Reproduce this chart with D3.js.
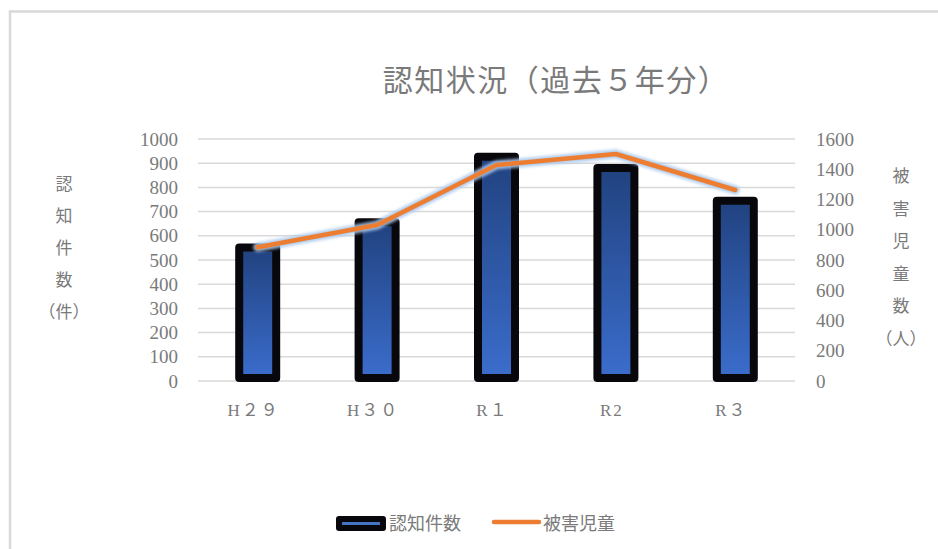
<!DOCTYPE html>
<html lang="ja">
<head>
<meta charset="utf-8">
<script src="https://cdn.jsdelivr.net/npm/d3@7"></script>
<style>
  html, body { margin: 0; padding: 0; background: #fff; }
  svg { display: block; }
  text { font-family: "Liberation Serif", "Noto Sans CJK JP", serif; fill: #7a7a7a; }
</style>
</head>
<body>
<svg id="chart" width="938" height="549"></svg>
<script>
// 認知件数（件）と被害児童数（人）の推移
const categories = ["H２９", "H３０", "R１", "R2", "R３"];
const ninchiCounts = [552, 656, 927, 880, 745];      // 認知件数（左軸）
const higaiChildren = [884, 1031, 1428, 1501, 1263]; // 被害児童数（右軸）
const leftTicks = [0, 100, 200, 300, 400, 500, 600, 700, 800, 900, 1000];
const rightTicks = [0, 200, 400, 600, 800, 1000, 1200, 1400, 1600];
const titleText = "認知状況（過去５年分）";
const leftAxisTitle = ["認", "知", "件", "数", "（件）"];
const rightAxisTitle = ["被", "害", "児", "童", "数", "（人）"];
const legendLabels = ["認知件数", "被害児童"];

const svg = d3.select("#chart");
const plot = { left: 198, right: 795, top: 139, bottom: 381 };

// chart frame
svg.append("path")
  .attr("d", "M10,549 V11.5 H938")
  .attr("fill", "none")
  .attr("stroke", "#d9d9d9")
  .attr("stroke-width", 2.5);

const defs = svg.append("defs");
const grad = defs.append("linearGradient")
  .attr("id", "barFill").attr("x1", 0).attr("y1", 0).attr("x2", 0).attr("y2", 1);
grad.append("stop").attr("offset", "0%").attr("stop-color", "#21427f");
grad.append("stop").attr("offset", "100%").attr("stop-color", "#3b6dcc");

const glow = defs.append("filter").attr("id", "glow")
  .attr("x", "-10%").attr("y", "-50%").attr("width", "120%").attr("height", "200%");
glow.append("feGaussianBlur").attr("stdDeviation", 1.6);

const x = d3.scaleBand().domain(categories).range([plot.left, plot.right]).padding(0);
const yL = d3.scaleLinear().domain([0, 1000]).range([plot.bottom, plot.top]);
const yR = d3.scaleLinear().domain([0, 1600]).range([plot.bottom, plot.top]);
const fmt = d3.format("d");

// gridlines
svg.append("g").selectAll("line").data(leftTicks).join("line")
  .attr("x1", plot.left).attr("x2", plot.right)
  .attr("y1", d => yL(d)).attr("y2", d => yL(d))
  .attr("stroke", "#d9d9d9").attr("stroke-width", 1.5);

// left axis
const leftAxis = svg.append("g")
  .attr("transform", `translate(${plot.left - 20},0)`)
  .call(d3.axisLeft(yL).tickValues(leftTicks).tickFormat(fmt).tickSize(0).tickPadding(0));
leftAxis.select(".domain").remove();
leftAxis.selectAll("text").attr("font-size", 19).attr("fill", "#7a7a7a")
  .style("font-family", "'Liberation Serif', serif");

// right axis
const rightAxis = svg.append("g")
  .attr("transform", `translate(${plot.right + 21},0)`)
  .call(d3.axisRight(yR).tickValues(rightTicks).tickFormat(fmt).tickSize(0).tickPadding(0));
rightAxis.select(".domain").remove();
rightAxis.selectAll("text").attr("font-size", 19).attr("fill", "#7a7a7a")
  .style("font-family", "'Liberation Serif', serif");

// category labels
const xAxis = svg.append("g")
  .attr("transform", `translate(-4,${plot.bottom})`)
  .call(d3.axisBottom(x).tickSize(0).tickPadding(23));
xAxis.select(".domain").remove();
xAxis.selectAll("text").attr("font-size", 17).attr("fill", "#7a7a7a")
  .attr("letter-spacing", 2)
  .style("font-family", "'Liberation Serif', 'Noto Sans CJK JP', serif");

// bars
const barW = 37;
svg.append("g").selectAll("rect").data(categories).join("rect")
  .attr("x", d => x(d) + x.bandwidth() / 2 - barW / 2)
  .attr("y", (d, i) => yL(ninchiCounts[i]))
  .attr("width", barW)
  .attr("height", (d, i) => yL(0) - 3 - yL(ninchiCounts[i]))
  .attr("fill", "url(#barFill)")
  .attr("stroke", "#08080c")
  .attr("stroke-width", 8)
  .attr("stroke-linejoin", "round");

// line series
const line = d3.line()
  .x((d, i) => x(categories[i]) + x.bandwidth() / 2)
  .y(d => yR(d));
svg.append("path").datum(higaiChildren)
  .attr("d", line)
  .attr("fill", "none")
  .attr("stroke", "#a9c8ec")
  .attr("stroke-width", 9)
  .attr("stroke-linecap", "round")
  .attr("stroke-linejoin", "round")
  .attr("filter", "url(#glow)")
  .attr("opacity", 0.9);
svg.append("path").datum(higaiChildren)
  .attr("d", line)
  .attr("fill", "none")
  .attr("stroke", "#ed7d31")
  .attr("stroke-width", 4.5)
  .attr("stroke-linecap", "round")
  .attr("stroke-linejoin", "round");

// title
svg.append("text")
  .attr("x", 556).attr("y", 91)
  .attr("text-anchor", "middle")
  .attr("font-size", 30)
  .attr("letter-spacing", 1.5)
  .attr("fill", "#6f6f6f")
  .text(titleText);

// vertical axis titles
svg.append("g").selectAll("text").data(leftAxisTitle).join("text")
  .attr("x", 64).attr("y", (d, i) => 190 + i * 32)
  .attr("text-anchor", "middle")
  .attr("font-size", 17)
  .style("font-family", "'Noto Sans CJK JP', serif")
  .text(d => d);
svg.append("g").selectAll("text").data(rightAxisTitle).join("text")
  .attr("x", 901).attr("y", (d, i) => 182 + i * 32.5)
  .attr("text-anchor", "middle")
  .attr("font-size", 17)
  .style("font-family", "'Noto Sans CJK JP', serif")
  .text(d => d);

// legend
const lg = svg.append("g");
lg.append("rect")
  .attr("x", 336).attr("y", 516).attr("width", 50).attr("height", 15)
  .attr("rx", 3)
  .attr("fill", "#08080c");
lg.append("line")
  .attr("x1", 342).attr("x2", 380).attr("y1", 523.5).attr("y2", 523.5)
  .attr("stroke", "#4472c4").attr("stroke-width", 3);
lg.append("text")
  .attr("x", 389).attr("y", 530)
  .attr("font-size", 18)
  .style("font-family", "'Noto Sans CJK JP', serif")
  .text(legendLabels[0]);
lg.append("line")
  .attr("x1", 494).attr("x2", 539).attr("y1", 522).attr("y2", 522)
  .attr("stroke", "#ed7d31").attr("stroke-width", 4.5)
  .attr("stroke-linecap", "round");
lg.append("text")
  .attr("x", 543).attr("y", 530)
  .attr("font-size", 18)
  .style("font-family", "'Noto Sans CJK JP', serif")
  .text(legendLabels[1]);
</script>
</body>
</html>
